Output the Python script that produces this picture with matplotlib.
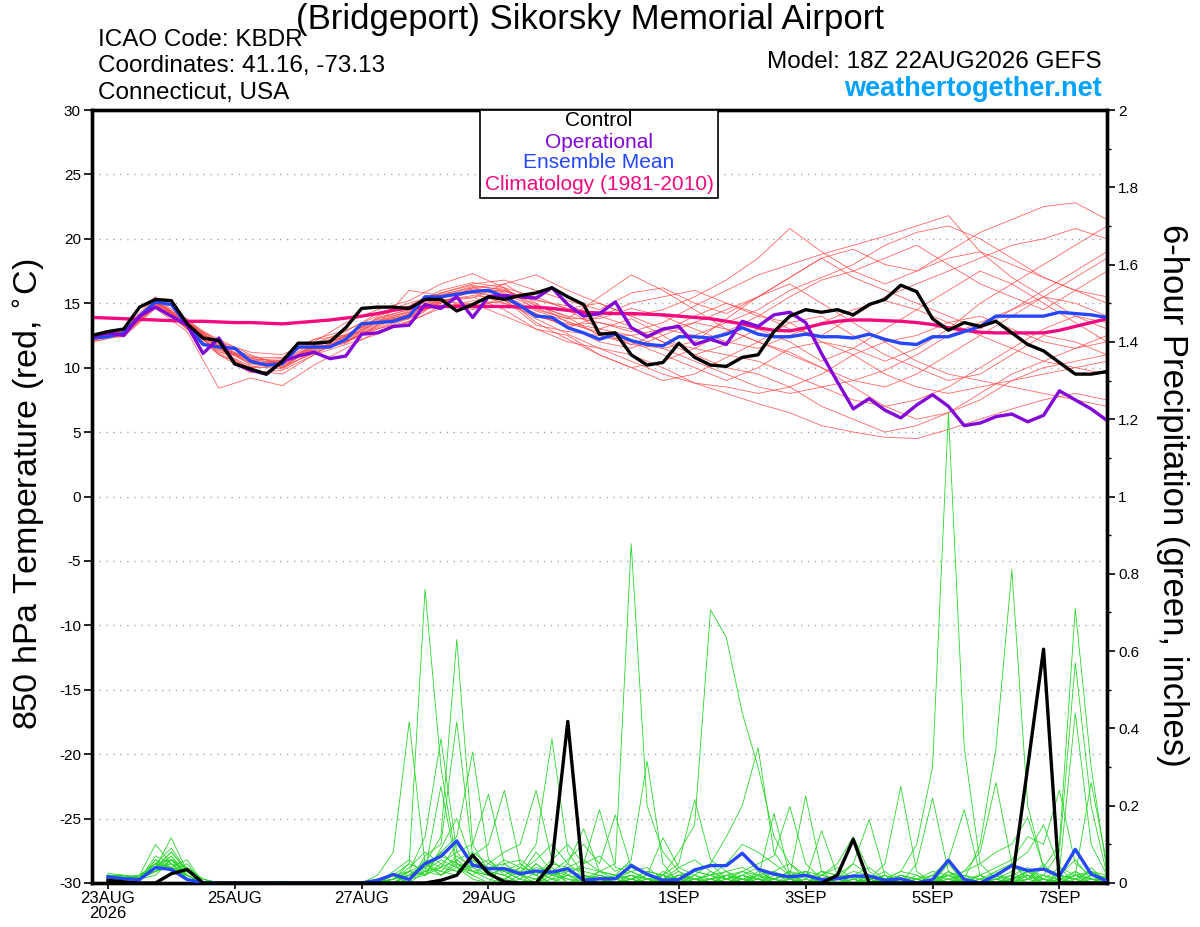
import numpy as np
import matplotlib
matplotlib.use("Agg")
import matplotlib.pyplot as plt
from matplotlib.patches import Rectangle

plt.rcParams["font.family"] = ["Liberation Sans", "DejaVu Sans"]

# hours since 18Z 22AUG2026 (6-hourly and 12-hourly)
hours = np.arange(0, 390, 6)
hours_12 = np.arange(0, 390, 12)

# ---- 850 hPa temperature (C), 6-hourly ----
control_t = [12.5, 12.8, 13.0, 14.7, 15.3, 15.2, 13.4, 12.3, 12.1, 10.3, 9.9, 9.5, 10.5,
             11.9, 11.9, 12.0, 13.1, 14.6, 14.7, 14.7, 14.6, 15.3, 15.3, 14.4, 14.9, 15.5,
             15.3, 15.6, 15.8, 16.2, 15.5, 14.9, 12.6, 12.7, 11.0, 10.2, 10.4, 11.9, 10.8,
             10.2, 10.1, 10.8, 11.0, 12.8, 14.0, 14.5, 14.3, 14.5, 14.1, 14.9, 15.3, 16.4,
             15.9, 13.8, 12.9, 13.5, 13.2, 13.6, 12.7, 11.8, 11.3, 10.4, 9.5, 9.5, 9.7]
operational_t = [12.4, 12.7, 12.5, 14.0, 14.7, 14.0, 13.3, 11.1, 12.3, 10.3, 9.8, 9.5, 10.5,
                 10.9, 11.2, 10.7, 10.9, 12.6, 12.7, 13.2, 13.3, 14.9, 14.6, 15.5, 13.9, 15.5,
                 15.6, 15.5, 15.4, 16.2, 14.9, 14.0, 14.2, 15.1, 13.1, 12.4, 13.0, 13.2, 11.8,
                 12.2, 11.8, 13.6, 13.2, 14.1, 14.3, 13.5, 11.1, 8.9, 6.8, 7.6, 6.7, 6.1, 7.1,
                 7.9, 7.0, 5.5, 5.7, 6.2, 6.4, 5.8, 6.3, 8.2, 7.5, 6.8, 5.9]
mean_t = [12.3, 12.4, 12.7, 14.0, 15.1, 14.9, 13.3, 11.8, 11.6, 11.5, 10.5, 10.2, 10.3, 11.6,
          11.6, 11.6, 12.2, 13.4, 13.5, 13.6, 14.0, 15.5, 15.5, 15.7, 15.9, 16.0, 15.5, 14.8,
          14.0, 13.9, 13.1, 12.7, 12.2, 12.6, 12.1, 11.8, 11.7, 12.4, 12.4, 12.3, 12.6, 13.1,
          12.6, 12.4, 12.4, 12.6, 12.4, 12.4, 12.3, 12.6, 12.2, 11.9, 11.8, 12.4, 12.4, 12.8,
          13.2, 14.0, 14.0, 14.0, 14.0, 14.3, 14.2, 14.1, 13.9]
climo_t = [13.9, 13.85, 13.8, 13.75, 13.7, 13.65, 13.6, 13.6, 13.55, 13.5, 13.5, 13.45, 13.4,
           13.5, 13.6, 13.7, 13.85, 14.0, 14.2, 14.45, 14.65, 14.7, 14.75, 14.75, 14.75, 14.75,
           14.75, 14.7, 14.7, 14.6, 14.45, 14.3, 14.25, 14.2, 14.2, 14.15, 14.1, 14.0, 13.9,
           13.8, 13.6, 13.4, 13.1, 12.9, 12.85, 13.1, 13.4, 13.6, 13.7, 13.7, 13.65, 13.6,
           13.5, 13.35, 13.1, 12.9, 12.75, 12.7, 12.7, 12.7, 12.7, 12.9, 13.2, 13.5, 13.8]

# ensemble members, 12-hourly
temp_members = [
    [12.4, 12.9, 15.3, 13.0, 11.0, 10.0, 10.6, 11.9, 12.8, 14.2, 15.0, 15.8, 16.5, 16.8, 16.0, 15.2, 14.5,
     15.8, 16.2, 15.0, 14.2, 15.5, 17.0, 18.5, 19.2, 18.0, 17.5, 19.0, 20.5, 21.5, 22.5, 22.8, 21.5],
    [12.2, 12.5, 14.8, 13.5, 12.0, 10.8, 10.0, 11.2, 12.0, 13.0, 13.8, 15.2, 15.5, 14.5, 13.0, 12.0, 11.5,
     10.5, 9.5, 8.8, 8.0, 7.2, 6.5, 5.5, 5.0, 4.6, 4.5, 5.2, 6.0, 6.8, 7.5, 8.0, 7.5],
    [12.0, 12.6, 15.0, 13.8, 11.5, 9.8, 9.5, 11.0, 12.5, 13.8, 14.5, 15.0, 16.2, 16.5, 15.0, 13.5, 13.0,
     13.8, 12.5, 11.0, 11.8, 13.0, 12.0, 10.5, 11.5, 13.0, 14.5, 16.0, 17.5, 16.5, 15.0, 13.5, 12.0],
    [12.5, 13.0, 15.5, 13.2, 11.2, 10.8, 10.8, 12.0, 13.5, 14.5, 15.2, 16.5, 17.3, 16.2, 14.5, 13.8, 15.5,
     17.2, 16.0, 14.5, 13.0, 12.0, 11.0, 10.0, 9.0, 8.5, 9.5, 11.0, 12.5, 14.0, 15.5, 17.0, 18.5],
    [12.3, 12.4, 14.6, 12.8, 8.4, 9.2, 8.6, 10.2, 11.5, 12.8, 13.5, 14.8, 15.0, 14.0, 13.0, 12.5, 11.0,
     10.0, 10.5, 11.5, 12.8, 14.0, 15.5, 16.8, 17.5, 18.5, 19.5, 18.0, 16.5, 15.5, 14.5, 16.0, 17.5],
    [12.1, 12.8, 15.2, 13.6, 11.8, 10.2, 10.5, 11.5, 12.0, 13.2, 14.2, 15.6, 15.8, 15.0, 14.2, 13.2, 12.0,
     11.5, 12.5, 13.5, 13.0, 12.0, 11.2, 10.0, 8.5, 7.0, 6.0, 6.5, 8.0, 9.5, 10.5, 11.5, 12.0],
    [12.6, 12.9, 15.0, 13.0, 11.4, 10.6, 10.0, 11.8, 12.6, 13.6, 14.0, 15.0, 16.0, 16.0, 14.8, 14.0, 13.5,
     12.8, 13.5, 14.8, 16.0, 17.2, 18.0, 18.8, 19.5, 20.2, 21.0, 21.8, 19.0, 17.0, 15.5, 14.0, 13.0],
    [12.2, 12.6, 14.9, 13.4, 12.2, 11.0, 10.2, 11.4, 12.2, 13.4, 13.8, 15.4, 14.5, 15.5, 13.5, 12.2, 11.0,
     10.0, 9.0, 9.5, 10.8, 12.0, 13.5, 14.0, 12.5, 11.0, 10.0, 9.0, 9.5, 11.0, 12.5, 12.0, 11.0],
    [12.4, 12.7, 15.3, 13.2, 11.6, 10.4, 10.4, 11.6, 12.0, 13.6, 14.4, 15.8, 16.4, 16.0, 15.2, 14.8, 14.0,
     13.2, 12.0, 11.0, 10.0, 9.5, 8.5, 7.0, 6.0, 5.0, 5.5, 6.5, 7.5, 9.0, 10.0, 10.5, 11.0],
    [12.3, 12.8, 15.1, 13.5, 11.0, 9.6, 9.8, 11.0, 11.8, 12.6, 13.6, 14.6, 15.2, 15.0, 14.0, 13.4, 12.8,
     11.8, 12.8, 14.0, 15.0, 14.2, 13.0, 12.5, 14.0, 15.5, 16.5, 17.5, 18.5, 19.5, 20.0, 20.8, 20.0],
    [12.0, 12.5, 14.7, 13.1, 11.7, 10.6, 10.7, 12.2, 12.9, 14.0, 14.8, 16.0, 16.6, 16.2, 15.5, 14.5, 13.0,
     12.5, 11.5, 10.5, 9.5, 8.5, 8.0, 8.5, 9.0, 9.8, 11.0, 12.5, 13.5, 14.5, 15.5, 15.0, 14.0],
    [12.5, 12.7, 15.4, 13.7, 12.0, 11.2, 11.0, 12.2, 12.5, 13.0, 13.6, 15.2, 15.4, 16.5, 17.2, 16.0, 15.0,
     14.0, 14.5, 15.5, 16.8, 18.5, 20.8, 19.0, 17.5, 16.5, 17.5, 18.5, 19.0, 18.0, 17.0, 16.0, 15.0],
    [12.2, 12.6, 15.0, 13.0, 11.3, 10.1, 9.9, 11.3, 11.9, 13.3, 14.2, 15.3, 14.8, 15.2, 13.8, 12.6, 11.5,
     11.0, 10.0, 8.8, 8.5, 8.0, 8.5, 9.5, 11.0, 12.0, 12.5, 13.5, 14.0, 13.0, 12.0, 11.5, 12.5],
    [12.4, 12.9, 15.2, 13.4, 11.9, 10.9, 10.3, 11.8, 12.4, 13.9, 14.5, 15.7, 16.2, 15.8, 14.6, 13.8, 13.8,
     14.6, 14.0, 13.0, 12.0, 11.5, 12.5, 13.5, 14.5, 15.2, 14.5, 13.5, 12.5, 11.5, 10.5, 10.0, 9.5],
    [12.3, 12.5, 14.8, 13.3, 11.1, 10.0, 10.1, 11.1, 12.1, 13.1, 13.9, 15.1, 15.9, 15.3, 13.3, 12.8, 12.5,
     12.0, 11.0, 10.0, 9.0, 10.0, 11.5, 12.0, 11.5, 10.5, 11.5, 13.0, 15.0, 16.5, 18.0, 19.5, 21.0],
    [12.1, 12.7, 15.0, 13.6, 11.5, 10.3, 10.6, 11.7, 12.3, 13.7, 14.1, 15.5, 15.8, 15.6, 14.4, 13.6, 12.6,
     12.5, 13.0, 13.5, 14.5, 15.5, 16.5, 15.0, 13.5, 12.0, 10.5, 9.5, 9.0, 8.5, 8.0, 7.5, 7.0],
    [12.5, 12.8, 15.2, 13.1, 11.5, 10.7, 10.5, 11.4, 12.0, 13.3, 16.0, 15.6, 16.3, 16.1, 14.9, 13.9, 12.5,
     11.8, 11.5, 12.0, 13.8, 15.5, 17.0, 18.5, 17.0, 16.0, 15.0, 14.0, 13.0, 14.5, 16.0, 17.5, 19.0],
    [12.2, 12.6, 14.9, 13.2, 11.9, 10.5, 10.0, 11.6, 12.4, 13.5, 14.3, 15.2, 15.6, 15.3, 14.2, 13.1, 14.0,
     15.0, 15.5, 16.0, 15.0, 14.0, 13.5, 12.0, 11.0, 9.5, 8.5, 8.0, 8.5, 9.0, 9.5, 10.0, 10.5],
    [12.4, 12.7, 15.1, 13.3, 11.6, 10.4, 10.2, 11.5, 12.2, 13.6, 14.0, 15.4, 16.0, 15.7, 14.0, 13.3, 13.5,
     13.0, 12.0, 11.5, 11.0, 10.5, 9.5, 8.5, 7.5, 7.0, 7.5, 8.5, 10.0, 11.5, 13.0, 14.0, 13.5],
    [12.3, 12.8, 15.1, 13.3, 11.7, 10.6, 10.4, 11.7, 12.5, 13.8, 14.3, 15.6, 16.1, 15.9, 15.3, 14.6, 15.0,
     14.0, 13.0, 12.5, 13.5, 14.5, 16.0, 17.0, 18.0, 19.5, 20.5, 21.0, 20.0, 18.5, 17.0, 16.0, 15.5],
]

# ---- 6-hour precipitation (inches), 6h..384h ----
control_p = [0.007, 0.003, 0, 0, 0.024, 0.035, 0, 0, 0, 0, 0, 0, 0, 0, 0, 0,
             0, 0, 0, 0, 0, 0.007, 0.02, 0.072, 0.025, 0.003, 0, 0, 0.05, 0.418, 0, 0,
             0, 0, 0, 0, 0, 0, 0, 0, 0, 0, 0, 0, 0, 0, 0.02, 0.113,
             0, 0, 0, 0, 0, 0, 0, 0, 0, 0, 0.3, 0.605, 0, 0, 0, 0]
mean_p = [0.016, 0.011, 0.009, 0.04, 0.035, 0.009, 0.001, 0, 0, 0, 0, 0, 0, 0, 0, 0,
          0, 0.007, 0.022, 0.009, 0.05, 0.069, 0.109, 0.046, 0.037, 0.037, 0.024, 0.031, 0.028, 0.037, 0.007, 0.011,
          0.011, 0.045, 0.023, 0.007, 0.009, 0.034, 0.045, 0.045, 0.077, 0.036, 0.023, 0.016, 0.02, 0.009, 0.011, 0.018,
          0.018, 0.007, 0.011, 0, 0.009, 0.059, 0.009, 0, 0.02, 0.045, 0.032, 0.036, 0.018, 0.087, 0.023, 0.005]

precip_members = [
    [.02, .015, .01, .06, .04, .02, 0, 0, 0, 0, 0, 0, 0, 0, 0, 0,
     0, .02, .08, .417, .05, .02, .06, .03, .01, 0, .02, .01, 0, .02, .01, 0,
     0, .02, .01, 0, 0, .03, .02, 0, .01, 0, 0, .02, .225, .03, 0, .01,
     0, 0, .02, .01, 0, .05, 0, 0, .01, .03, 0, 0, .02, .06, .01, 0],
    [.025, .02, .015, .04, .08, .03, 0, 0, 0, 0, 0, 0, 0, 0, 0, 0,
     0, 0, .01, .05, .76, .3, .05, .02, 0, .01, 0, .03, .01, 0, 0, .02,
     .01, 0, 0, .02, 0, 0, .01, .03, 0, .01, 0, 0, 0, .02, .05, .12,
     .03, 0, 0, 0, .01, 0, 0, .02, 0, 0, .01, .02, 0, .01, .03, .01],
    [.015, .01, .02, .10, .05, .01, 0, 0, 0, 0, 0, .003, 0, 0, 0, 0,
     0, 0, 0, .03, .12, .373, .08, .03, .02, 0, .01, .05, .02, .01, 0, .03,
     .02, .06, .315, .05, 0, .01, 0, .02, 0, .03, .01, 0, .01, 0, .02, 0,
     0, .02, 0, 0, .01, .02, 0, 0, .03, 0, .01, .05, 0, .02, .26, .05],
    [.02, .01, .01, .03, .06, .04, .01, 0, 0, 0, 0, 0, 0, 0, 0, 0,
     0, 0, 0, 0, .03, .25, .04, .01, 0, .05, .02, 0, .03, .01, .01, 0,
     .01, 0, .01, 0, .02, 0, .01, .02, .01, 0, .03, .05, .01, .135, .02, 0,
     0, .01, 0, 0, .02, 0, .01, 0, 0, .02, .04, .01, 0, 0, .01, .01],
    [.01, .01, .01, .04, .117, .03, 0, 0, 0, 0, 0, 0, 0, 0, 0, 0,
     0, 0, .01, .02, .05, .12, .63, .1, .03, .02, 0, 0, .01, .02, 0, .01,
     0, .01, .02, 0, .01, .03, .05, .01, .02, .04, 0, .01, 0, 0, .01, .02,
     0, 0, .01, 0, 0, .03, 0, 0, .02, .05, .01, 0, .03, .44, .1, .02],
    [.02, .02, .01, .05, .03, .05, 0, 0, 0, 0, 0, 0, 0, 0, 0, 0,
     0, .01, .02, 0, .07, .1, .417, .07, .02, .01, .04, .02, 0, 0, .01, 0,
     .01, .02, 0, .01, 0, 0, .03, .01, 0, .02, .01, 0, .03, 0, .01, .05,
     .164, .02, 0, .01, 0, .02, 0, .01, 0, .01, .02, 0, .01, .03, 0, .02],
    [.015, .015, .02, .03, .07, .02, 0, 0, 0, 0, 0, 0, 0, 0, 0, 0,
     0, 0, .03, .06, .02, .09, .167, .05, .04, .03, .01, 0, .02, .04, .01, .01,
     0, .01, .03, .02, .01, 0, 0, .02, .03, .01, .18, .02, 0, .01, 0, 0,
     .01, 0, 0, .02, 0, 0, .01, 0, .02, 0, 0, .01, .04, 0, .02, .01],
    [.02, .01, .02, .05, .09, .03, .01, 0, 0, 0, 0, 0, 0, 0, 0, 0,
     0, 0, 0, .02, .04, .08, .12, .339, .06, .02, 0, .01, .03, 0, .02, .01,
     0, .01, 0, .02, 0, .02, .05, .12, .2, .35, .08, .02, 0, .01, 0, .01,
     0, .01, 0, 0, .02, .01, 0, 0, .01, 0, .03, .01, 0, .02, 0, 0],
    [.01, .02, .015, .03, .04, .06, 0, 0, 0, 0, 0, 0, 0, 0, 0, 0,
     0, .005, .01, .03, .02, .05, .08, .1, .23, .05, .02, .01, .04, 0, .01, .02,
     .01, 0, .02, .01, .03, 0, .01, 0, .01, 0, .02, .01, 0, .03, .02, 0,
     .01, .05, .25, .03, 0, 0, .01, .02, 0, .01, 0, .02, .01, 0, .04, 0],
    [.02, .01, .01, .07, .05, .02, 0, 0, 0, 0, 0, 0, 0, 0, 0, 0,
     0, 0, .02, .01, .06, .04, .03, .07, .1, .24, .05, .02, 0, .03, .02, 0,
     .02, 0, .01, 0, .02, .01, 0, .01, .03, .05, .07, .198, .05, .01, 0, 0,
     .02, 0, .01, 0, 0, .01, .02, 0, .01, 0, .02, 0, .01, .02, .01, 0],
    [.015, .01, .01, .02, .06, .03, 0, 0, 0, 0, 0, 0, 0, 0, 0, 0,
     0, 0, 0, .01, .03, .06, .04, .02, .05, .08, .1, .24, .06, .02, .01, .03,
     .02, .01, 0, .01, .04, .02, 0, .01, 0, .02, 0, .01, .02, 0, .01, .03,
     .02, .01, 0, .05, .22, .03, .01, 0, .01, .02, 0, .01, 0, .03, .01, .01],
    [.02, .015, .01, .04, .07, .01, 0, 0, 0, 0, 0, 0, 0, 0, 0, 0,
     0, .01, 0, .01, .02, .04, .1, .05, .03, .06, .04, .1, .373, .08, .02, .01,
     0, .01, 0, .03, .01, 0, .01, 0, .02, 0, .01, .03, 0, .01, .02, .05,
     .02, .01, .03, .1, .3, 1.216, .35, .05, .01, 0, .02, 0, .01, 0, .02, .01],
    [.01, .01, .02, .03, .05, .04, .01, 0, 0, 0, 0, 0, 0, 0, 0, 0,
     0, 0, .01, .02, .05, .03, .07, .04, .02, .04, .03, .06, .1, .05, .14, .03,
     .01, .02, .01, 0, .02, .01, .02, .03, .01, .01, 0, 0, .02, .01, 0, .02,
     .01, .03, 0, .01, .02, .06, .19, .02, 0, .01, .03, 0, .02, .01, 0, .02],
    [.02, .01, .01, .05, .06, .02, 0, 0, 0, 0, 0, 0, 0, 0, 0, 0,
     0, 0, .01, .04, .08, .05, .03, .06, .04, .03, .05, .02, .06, .1, .05, .19,
     .04, .03, .01, .02, 0, .01, .01, 0, .02, .01, .01, 0, 0, .02, .04, .01,
     0, .02, 0, 0, .01, 0, .03, .08, .26, .05, .02, .01, 0, .02, .03, .01],
    [.015, .02, .01, .06, .03, .02, 0, 0, 0, 0, 0, 0, 0, 0, 0, 0,
     0, 0, 0, .02, .04, .07, .05, .03, .02, .04, .02, .08, .03, .06, .1, .05,
     .176, .04, .02, .01, 0, .02, .01, .02, .01, .02, .03, .01, 0, .02, .01, 0,
     .01, 0, .02, .01, 0, .03, .01, .1, .35, .81, .2, .04, .02, .01, .03, .02],
    [.02, .01, .015, .04, .05, .02, 0, 0, 0, 0, 0, 0, 0, 0, 0, 0,
     0, 0, .02, .03, .02, .08, .04, .06, .02, .01, .03, .02, .05, .04, .06, .03,
     .05, .878, .2, .08, .03, .01, .02, .01, .03, .02, .01, .02, .03, 0, .01, .02,
     .01, .02, 0, 0, .01, .02, .03, .05, .08, .1, .17, .04, .02, .01, 0, .01],
    [.01, .015, .02, .05, .04, .03, 0, 0, 0, 0, 0, 0, 0, 0, 0, 0,
     0, 0, .01, .02, .03, .04, .06, .08, .05, .03, .02, .04, .03, .02, .05, .07,
     .03, .05, .02, .117, .04, .06, .03, .01, .02, .01, .03, 0, .01, .03, .02, .02,
     .04, .01, .02, 0, .01, 0, .02, .01, .03, .05, .08, .15, .04, .02, .01, .01],
    [.02, .02, .01, .03, .06, .02, 0, 0, 0, 0, 0, 0, 0, 0, 0, 0,
     0, 0, .02, .05, .03, .02, .05, .04, .06, .03, .01, .05, .02, .04, .03, .02,
     .01, .03, .01, .02, .05, .216, .06, .03, .04, .02, .01, .03, .02, .01, 0, .01,
     .02, .01, .03, .02, 0, .01, 0, .02, .04, .06, .12, .1, .24, .05, .02, .01],
    [.015, .01, .01, .04, .08, .03, 0, 0, 0, 0, 0, 0, 0, 0, 0, 0,
     0, .01, 0, .02, .04, .03, .02, .05, .03, .02, .04, .03, .01, .05, .02, .01,
     .02, .01, .03, .02, .08, .15, .707, .635, .44, .3, .12, .05, .02, .01, 0, .02,
     .01, 0, .02, .01, 0, .02, .01, 0, .02, .05, .01, .04, .1, .71, .3, .03],
    [.02, .01, .02, .05, .04, .02, 0, 0, 0, 0, 0, 0, 0, 0, 0, 0,
     0, 0, .01, .03, .05, .02, .04, .03, .04, .05, .06, .03, .02, .03, .04, .03,
     .02, .03, .04, .01, .02, .03, .02, .05, .1, .08, .05, .02, .03, .02, .01, 0,
     .02, .01, 0, .01, .03, .02, 0, .01, .02, .01, .03, .02, .08, .57, .2, .02],
]

tick_hours = [6, 54, 102, 150, 222, 270, 318, 366]
tick_labels = ["23AUG\n2026", "25AUG", "27AUG", "29AUG", "1SEP", "3SEP", "5SEP", "7SEP"]

RED = "#ff4a4a"
GREEN = "#2ad62a"
BLUE = "#2447ff"
PURPLE = "#8306d8"
PINK = "#f5097f"

fig = plt.figure(figsize=(12, 9.27), dpi=100)
ax = fig.add_axes([92 / 1200, 1 - 883 / 927, (1107 - 92) / 1200, (883 - 110) / 927])
ax2 = ax.twinx()

# temperature (left axis)
for m in temp_members:
    ax.plot(hours_12, m, color=RED, lw=0.6, alpha=0.85, zorder=2)
ax.plot(hours, climo_t, color=PINK, lw=2.4, zorder=4)
ax.plot(hours, mean_t, color=BLUE, lw=2.4, zorder=5)
ax.plot(hours, operational_t, color=PURPLE, lw=2.4, zorder=6)
ax.plot(hours, control_t, color="black", lw=2.4, zorder=7)

# precipitation (right axis)
for m in precip_members:
    ax2.plot(hours[1:], m, color=GREEN, lw=0.6, zorder=2)
ax2.plot(hours[1:], mean_p, color=BLUE, lw=2.4, zorder=5)
ax2.plot(hours[1:], control_p, color="black", lw=2.4, zorder=6)

ax.set_xlim(0, 384)
ax.set_ylim(-30, 30)
ax2.set_ylim(0, 2)
ax.set_yticks(np.arange(-30, 31, 5))
ax.set_yticklabels([str(v) for v in range(-30, 31, 5)])
ax2.set_yticks(np.arange(0, 2.01, 0.2))
ax2.set_yticklabels(["0", "0.2", "0.4", "0.6", "0.8", "1", "1.2", "1.4", "1.6", "1.8", "2"])
ax2.set_yticks(np.arange(0.1, 2.0, 0.2), minor=True)
ax.set_xticks(tick_hours)
ax.set_xticklabels(tick_labels, fontsize=12, linespacing=1.0)

ax.yaxis.grid(True, linestyle=(0, (1, 4)), color="#a8a8a8", lw=1.0)
ax.set_axisbelow(True)

ax.tick_params(axis="y", labelsize=11, length=6, width=1.2, pad=2)
ax.tick_params(axis="x", length=4, width=1.2, pad=2)
ax2.tick_params(axis="y", which="major", labelsize=11, length=6, width=1.2, pad=2)
ax2.tick_params(axis="y", which="minor", length=3, width=1.0)
for a in (ax, ax2):
    for s in a.spines.values():
        s.set_linewidth(2.4)

# legend box
fig.patches.append(Rectangle((480 / 1200, 1 - 198 / 927), 238 / 1200, 88 / 927,
                             transform=fig.transFigure, facecolor="white",
                             edgecolor="black", lw=1.2, zorder=10))
leg_items = [("Control", "black", 121), ("Operational", PURPLE, 142),
             ("Ensemble Mean", BLUE, 163), ("Climatology (1981-2010)", PINK, 185)]
for txt, col, ypix in leg_items:
    fig.text(599 / 1200, 1 - ypix / 927, txt, color=col, fontsize=15,
             ha="center", va="center", zorder=11)

# titles and labels
fig.text(590 / 1200, 1 - 19 / 927, "(Bridgeport) Sikorsky Memorial Airport",
         fontsize=25, ha="center", va="center")
fig.text(98 / 1200, 1 - 40 / 927, "ICAO Code: KBDR", fontsize=17.5, ha="left", va="center")
fig.text(98 / 1200, 1 - 66 / 927, "Coordinates: 41.16, -73.13", fontsize=17.5, ha="left", va="center")
fig.text(98 / 1200, 1 - 93 / 927, "Connecticut, USA", fontsize=17.5, ha="left", va="center")
fig.text(1102 / 1200, 1 - 62 / 927, "Model: 18Z 22AUG2026 GEFS", fontsize=17.5, ha="right", va="center")
fig.text(1102 / 1200, 1 - 89 / 927, "weathertogether.net", fontsize=19.5, fontweight="bold",
         color="#00a2ff", ha="right", va="center")
fig.text(30 / 1200, 1 - 494 / 927, "850 hPa Temperature (red, $^{\\circ}$C)", fontsize=24.5,
         rotation=90, ha="center", va="center")
fig.text(1173 / 1200, 1 - 495 / 927, "6-hour Precipitation (green, inches)", fontsize=25,
         rotation=270, ha="center", va="center")

fig.savefig("out.png", dpi=100)
